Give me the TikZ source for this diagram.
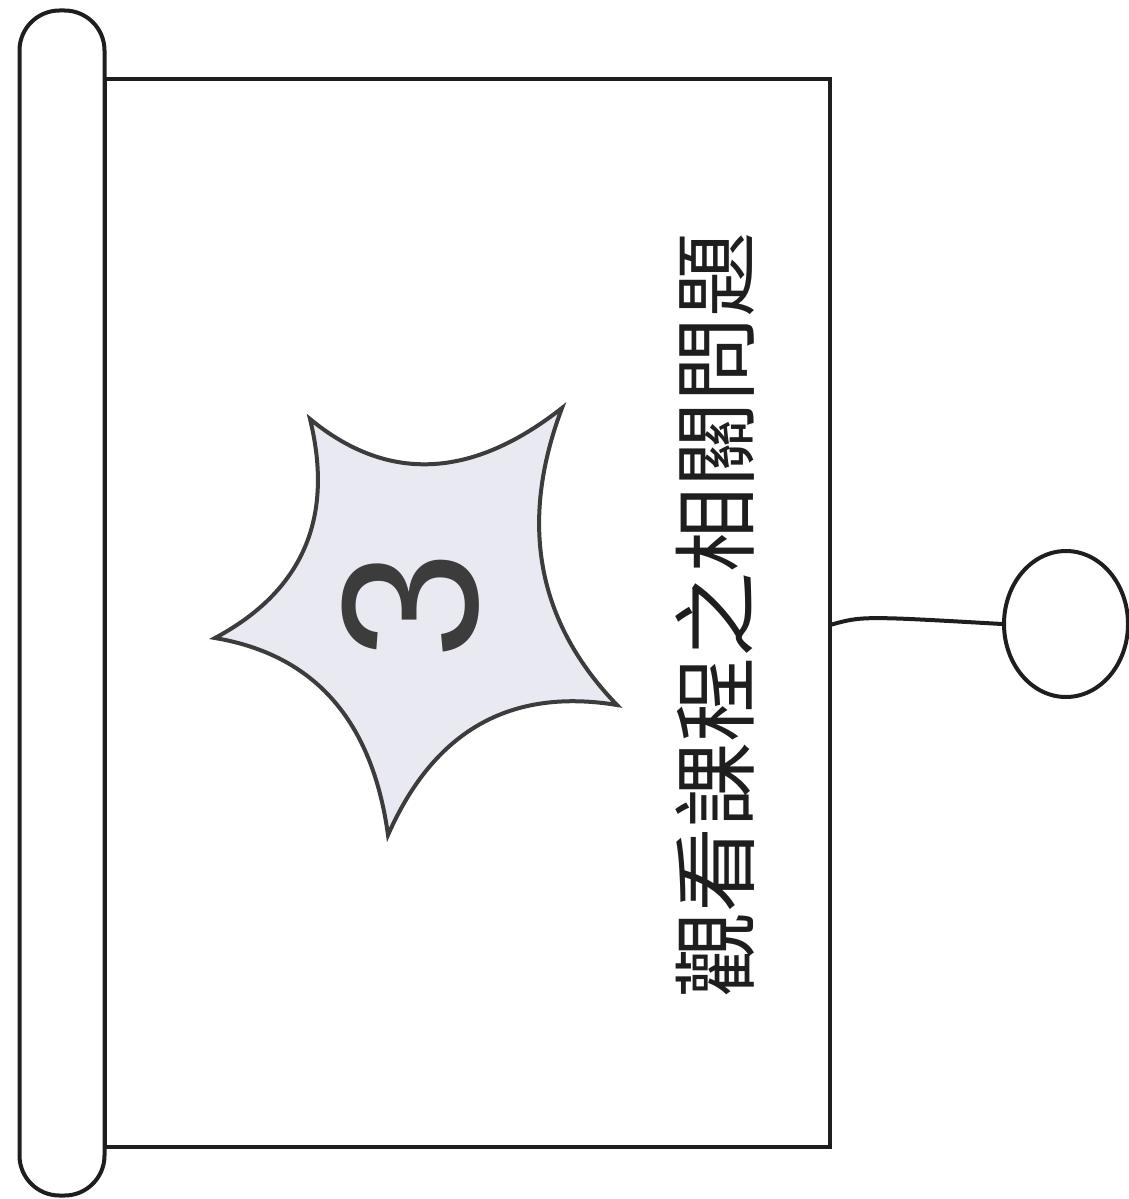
\documentclass[tikz,border=0pt]{standalone}
\usepackage{fontspec}
\setmainfont{Liberation Sans}
\newfontfamily\cjk{Noto Sans CJK TC}
\usetikzlibrary{calc,shapes.geometric}
\definecolor{starfill}{HTML}{E9E9F1}
\definecolor{ink}{HTML}{1E1E1E}
\definecolor{digit}{HTML}{3C3C3C}
\tikzset{
  outline/.style={draw=ink, line width=4pt},
  rodbox/.style={outline, rectangle, rounded corners=40pt, inner sep=0pt, minimum width=85pt, minimum height=1185pt},
  pagebox/.style={outline, rectangle, inner sep=0pt, minimum width=725pt, minimum height=1068pt},
  knob/.style={outline, ellipse, inner sep=0pt, minimum width=124pt, minimum height=146pt},
  starline/.style={draw=digit, line width=4pt, fill=starfill, line join=miter},
  titletext/.style={font=\cjk\fontsize{85pt}{90pt}\selectfont, text=ink, rotate=90, inner sep=0pt},
  digittext/.style={font=\fontsize{194pt}{200pt}\selectfont, text=digit, rotate=90, inner sep=0pt}
}
\begin{document}
\begin{tikzpicture}[x=1pt,y=-1pt]
\useasboundingbox (0,0) rectangle (1129,1199);
\node[pagebox] (page) at (467.5,613) {};
\node[rodbox] (rod) at (62,603) {};
% star
\coordinate (c) at (418,601);
\coordinate (s1) at (310,419);
\coordinate (s2) at (562,408);
\coordinate (s3) at (617,705);
\coordinate (s4) at (388,835);
\coordinate (s5) at (215,638);
\coordinate (q12) at ($(s1)!0.5!(s2)!0.54!(c)$);
\coordinate (q23) at ($(s2)!0.5!(s3)!0.54!(c)$);
\coordinate (q34) at ($(s3)!0.5!(s4)!0.54!(c)$);
\coordinate (q45) at ($(s4)!0.5!(s5)!0.54!(c)$);
\coordinate (q51) at ($(s5)!0.5!(s1)!0.54!(c)$);
\path[starline] (s1)
  .. controls ($(s1)!0.667!(q12)$) and ($(s2)!0.667!(q12)$) .. (s2)
  .. controls ($(s2)!0.667!(q23)$) and ($(s3)!0.667!(q23)$) .. (s3)
  .. controls ($(s3)!0.667!(q34)$) and ($(s4)!0.667!(q34)$) .. (s4)
  .. controls ($(s4)!0.667!(q45)$) and ($(s5)!0.667!(q45)$) .. (s5)
  .. controls ($(s5)!0.667!(q51)$) and ($(s1)!0.667!(q51)$) .. (s1) -- cycle;
\node[digittext] (num) at (411,606) {3};
\node[titletext] (title) at (715,615) {觀看課程之相關問題};
\node[knob] (circ) at (1066,624) {};
\coordinate (pageport) at (830,625);
\draw[outline] (pageport) .. controls (862,616) .. (circ.west);
\end{tikzpicture}
\end{document}
